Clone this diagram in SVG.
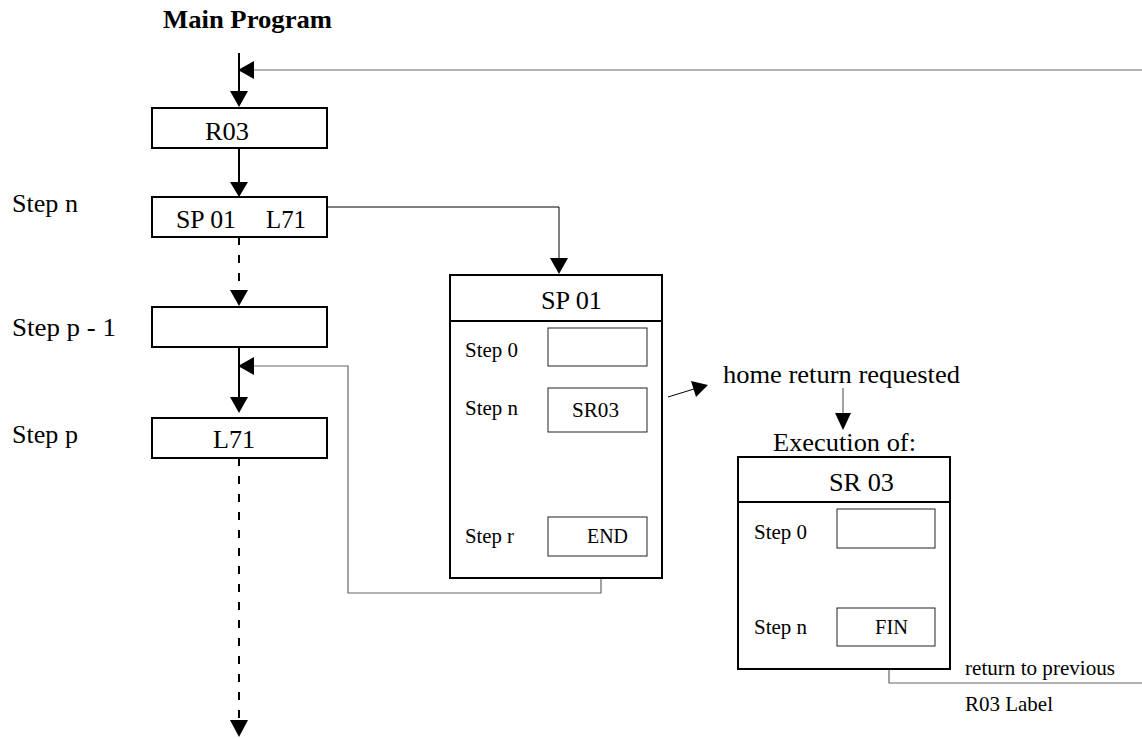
<svg xmlns="http://www.w3.org/2000/svg" width="1142" height="739" viewBox="0 0 1142 739">
  <style>
    text { font-family: "Liberation Serif", "Times New Roman", Times, serif; fill: #000; }
    .lg { font-size: 26px; }
    .sm { font-size: 21px; }
    .title { font-size: 26px; font-weight: bold; }
    .box { fill: #fff; stroke: #000; stroke-width: 2; }
    .inner { fill: #fff; stroke: #222; stroke-width: 1; }
    .flow { fill: none; stroke: #000; stroke-width: 2; }
    .flowdash { fill: none; stroke: #000; stroke-width: 2; stroke-dasharray: 8 10; }
    .link { fill: none; stroke: #000; stroke-width: 1; }
    .ret { fill: none; stroke: #666; stroke-width: 1.2; }
    .thin-dash { fill: none; stroke: #333; stroke-width: 1; stroke-dasharray: 6 8; }
    .head { fill: #000; stroke: none; }
  </style>

  <rect width="1142" height="739" fill="#fff"/>

  <text class="title" x="163" y="28" textLength="169" lengthAdjust="spacingAndGlyphs">Main Program</text>

  <!-- connectors -->
  <g id="connectors">
    <!-- main program flow -->
    <line class="flow" x1="239" y1="53" x2="239" y2="92"/>
    <polygon class="head" points="230,91 248,91 239,107"/>
    <line class="flow" x1="239" y1="148" x2="239" y2="183"/>
    <polygon class="head" points="230,182 248,182 239,197"/>
    <line class="flowdash" x1="239" y1="237" x2="239" y2="291"/>
    <polygon class="head" points="230,290 248,290 239,306"/>
    <line class="flow" x1="239" y1="347" x2="239" y2="398"/>
    <polygon class="head" points="230,397 248,397 239,413"/>
    <line class="flowdash" x1="239" y1="458" x2="239" y2="721"/>
    <polygon class="head" points="230,720 248,720 239,737"/>

    <!-- return to R03 from the right edge -->
    <line class="ret" x1="1142" y1="70" x2="253" y2="70"/>
    <polygon class="head" points="238,70 254,61 254,79"/>

    <!-- call of SP 01 -->
    <polyline class="link" points="327,207 559,207 559,259"/>
    <polygon class="head" points="550,258 568,258 559,274"/>

    <!-- END back to L71 -->
    <polyline class="ret" points="601,556 601,593 348,593 348,366 253,366"/>
    <polygon class="head" points="238,366 254,357 254,375"/>

    <!-- dashed step sequences inside subprograms -->
    <line class="thin-dash" x1="600" y1="366" x2="600" y2="388"/>
    <line class="thin-dash" x1="600" y1="432" x2="600" y2="517"/>
    <line class="thin-dash" x1="888" y1="548" x2="888" y2="608"/>

    <!-- home return request -->
    <line class="link" x1="668" y1="397" x2="694" y2="389"/>
    <polygon class="head" points="708,385 696,397 691,381"/>
    <line class="ret" x1="843" y1="388" x2="843" y2="414"/>
    <polygon class="head" points="835,413 851,413 843,430"/>

    <!-- FIN return -->
    <polyline class="ret" points="889,646 889,683 1142,683"/>
  </g>

  <!-- main program steps -->
  <g id="r03">
    <rect class="box" x="152" y="108" width="175" height="40"/>
    <text class="lg" x="205" y="140" textLength="44" lengthAdjust="spacingAndGlyphs">R03</text>
  </g>

  <g id="step-n">
    <text class="lg" x="12" y="212" textLength="66" lengthAdjust="spacingAndGlyphs">Step n</text>
    <rect class="box" x="152" y="197" width="175" height="40"/>
    <text class="lg" x="176" y="228" textLength="60" lengthAdjust="spacingAndGlyphs">SP 01</text>
    <text class="lg" x="266" y="228" textLength="40" lengthAdjust="spacingAndGlyphs">L71</text>
  </g>

  <g id="step-p-1">
    <text class="lg" x="12" y="336" textLength="104" lengthAdjust="spacingAndGlyphs">Step p - 1</text>
    <rect class="box" x="152" y="307" width="175" height="40"/>
  </g>

  <g id="step-p">
    <text class="lg" x="12" y="443" textLength="66" lengthAdjust="spacingAndGlyphs">Step p</text>
    <rect class="box" x="152" y="418" width="175" height="40"/>
    <text class="lg" x="213" y="448" textLength="42" lengthAdjust="spacingAndGlyphs">L71</text>
  </g>

  <!-- subprogram SP 01 -->
  <g id="sp01">
    <rect class="box" x="450" y="275" width="212" height="303"/>
    <line class="flow" x1="450" y1="321" x2="662" y2="321"/>
    <text class="lg" x="541" y="309" textLength="61" lengthAdjust="spacingAndGlyphs">SP 01</text>

    <text class="sm" x="465" y="357" textLength="53" lengthAdjust="spacingAndGlyphs">Step 0</text>
    <rect class="inner" x="548" y="328" width="99" height="38"/>

    <text class="sm" x="465" y="415" textLength="53" lengthAdjust="spacingAndGlyphs">Step n</text>
    <rect class="inner" x="548" y="388" width="99" height="44"/>
    <text class="sm" x="572" y="417" textLength="47" lengthAdjust="spacingAndGlyphs">SR03</text>

    <text class="sm" x="465" y="543" textLength="49" lengthAdjust="spacingAndGlyphs">Step r</text>
    <rect class="inner" x="548" y="517" width="99" height="39"/>
    <text class="sm" x="587" y="543" textLength="41" lengthAdjust="spacingAndGlyphs">END</text>
  </g>

  <g id="home-request">
    <text class="lg" x="723" y="383" textLength="237" lengthAdjust="spacingAndGlyphs">home return requested</text>
    <text class="lg" x="773" y="451" textLength="143" lengthAdjust="spacingAndGlyphs">Execution of:</text>
  </g>

  <!-- subroutine SR 03 -->
  <g id="sr03">
    <rect class="box" x="738" y="457" width="212" height="212"/>
    <line class="flow" x1="738" y1="502" x2="950" y2="502"/>
    <text class="lg" x="829" y="491" textLength="65" lengthAdjust="spacingAndGlyphs">SR 03</text>

    <text class="sm" x="754" y="539" textLength="53" lengthAdjust="spacingAndGlyphs">Step 0</text>
    <rect class="inner" x="837" y="509" width="98" height="39"/>

    <text class="sm" x="754" y="634" textLength="53" lengthAdjust="spacingAndGlyphs">Step n</text>
    <rect class="inner" x="837" y="608" width="98" height="38"/>
    <text class="sm" x="875" y="634" textLength="33" lengthAdjust="spacingAndGlyphs">FIN</text>
  </g>

  <g id="return-note">
    <text class="sm" x="965" y="675" textLength="150" lengthAdjust="spacingAndGlyphs">return to previous</text>
    <text class="sm" x="965" y="711" textLength="88" lengthAdjust="spacingAndGlyphs">R03 Label</text>
  </g>
</svg>
